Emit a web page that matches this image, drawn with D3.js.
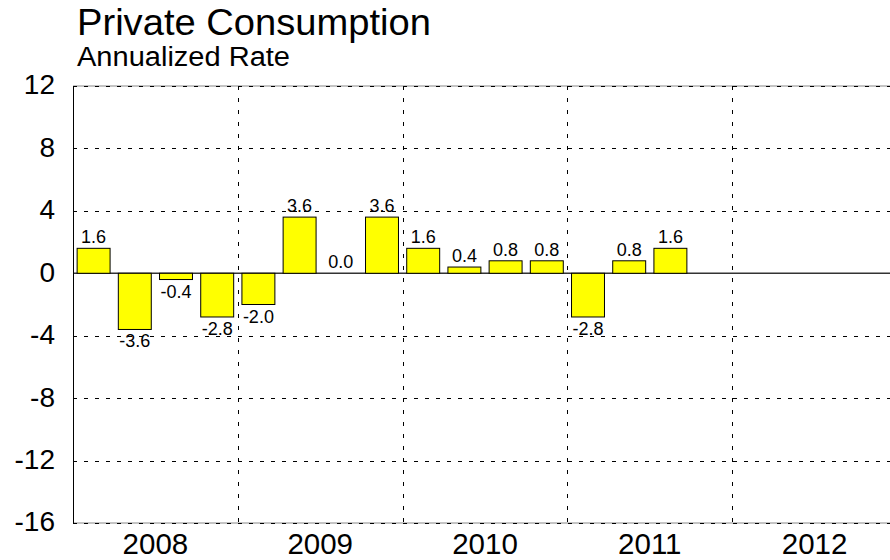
<!DOCTYPE html>
<html>
<head>
<meta charset="utf-8">
<script src="https://cdn.jsdelivr.net/npm/d3@7"></script>
<style>
  html, body { margin: 0; padding: 0; background: #fff; }
  svg { display: block; font-family: "Liberation Sans", Arial, Helvetica, sans-serif; }
</style>
</head>
<body>
<svg id="chart" width="890" height="560"></svg>
<script>
// Quarterly annualized growth of private consumption
const years = ["2008", "2009", "2010", "2011", "2012"];
const quarters = years.flatMap(y => ["Q1", "Q2", "Q3", "Q4"].map(q => y + q));
const values = [
  1.6, -3.6, -0.4, -2.8,   // 2008
  -2.0, 3.6, 0.0, 3.6,     // 2009
  1.6, 0.4, 0.8, 0.8,      // 2010
  -2.8, 0.8, 1.6           // 2011 (Q1-Q3)
];
const yTicks = [12, 8, 4, 0, -4, -8, -12, -16];

const data = values.map((v, i) => ({ q: quarters[i], v }));

const svg = d3.select("#chart");
const plotLeft = 73, plotRight = 897, plotTop = 86, plotBottom = 523;

const x = d3.scaleBand().domain(quarters).range([plotLeft, plotRight])
  .paddingInner(0.2).paddingOuter(0.1);
const xYear = d3.scaleBand().domain(years).range([plotLeft, plotRight]);
const y = d3.scaleLinear().domain([-16, 12]).range([plotBottom, plotTop]);

// Title block
svg.append("text").attr("x", 77).attr("y", 35)
  .attr("font-size", 37).attr("textLength", 354).attr("lengthAdjust", "spacingAndGlyphs")
  .text("Private Consumption");
svg.append("text").attr("x", 77).attr("y", 66)
  .attr("font-size", 27).attr("textLength", 213).attr("lengthAdjust", "spacingAndGlyphs")
  .text("Annualized Rate");

const plot = svg.append("g");

// Solid underlay for frame edges and the zero line
plot.selectAll("line.edge").data([12, 0, -16]).join("line")
  .attr("class", "edge")
  .attr("x1", plotLeft).attr("x2", plotRight)
  .attr("y1", d => y(d)).attr("y2", d => y(d))
  .attr("stroke", d => d === 0 ? "#333" : "#8a8a8a")
  .attr("stroke-width", d => d === 0 ? 1.4 : 1.2);

// Horizontal dashed grid
plot.selectAll("line.hgrid").data(yTicks.filter(d => d !== 0)).join("line")
  .attr("class", "hgrid")
  .attr("x1", plotLeft).attr("x2", plotRight)
  .attr("y1", d => Math.round(y(d)) + 0.5).attr("y2", d => Math.round(y(d)) + 0.5)
  .attr("stroke", "#000").attr("stroke-width", 1)
  .attr("stroke-dasharray", "4,7");

// Vertical dashed year separators
plot.selectAll("line.vgrid").data(years.slice(1)).join("line")
  .attr("class", "vgrid")
  .attr("x1", d => Math.round(xYear(d)) + 0.5).attr("x2", d => Math.round(xYear(d)) + 0.5)
  .attr("y1", plotTop).attr("y2", plotBottom)
  .attr("stroke", "#000").attr("stroke-width", 1)
  .attr("stroke-dasharray", "4,8");

// Left axis line
plot.append("line")
  .attr("x1", plotLeft + 0.5).attr("x2", plotLeft + 0.5)
  .attr("y1", plotTop).attr("y2", plotBottom)
  .attr("stroke", "#000").attr("stroke-width", 1);

// Bars
plot.selectAll("rect.bar").data(data).join("rect")
  .attr("class", "bar")
  .attr("x", d => x(d.q))
  .attr("width", x.bandwidth())
  .attr("y", d => y(Math.max(0, d.v)))
  .attr("height", d => Math.abs(y(d.v) - y(0)))
  .attr("fill", "#ffff00")
  .attr("stroke", "#000").attr("stroke-width", 1);

// Value labels
plot.selectAll("text.val").data(data).join("text")
  .attr("class", "val")
  .attr("x", d => x(d.q) + x.bandwidth() / 2)
  .attr("y", d => d.v >= 0 ? y(d.v) - 5 : y(d.v) + 18)
  .attr("text-anchor", "middle")
  .attr("font-size", 18)
  .text(d => d.v.toFixed(1));

// Y tick labels
svg.selectAll("text.ytick").data(yTicks).join("text")
  .attr("class", "ytick")
  .attr("x", 55).attr("y", d => y(d))
  .attr("dy", "0.3em")
  .attr("text-anchor", "end")
  .attr("font-size", 28)
  .text(d => d);

// Year labels
svg.selectAll("text.year").data(years).join("text")
  .attr("class", "year")
  .attr("x", d => xYear(d) + xYear.bandwidth() / 2)
  .attr("y", 554)
  .attr("text-anchor", "middle")
  .attr("font-size", 29.5)
  .text(d => d);
</script>
</body>
</html>
